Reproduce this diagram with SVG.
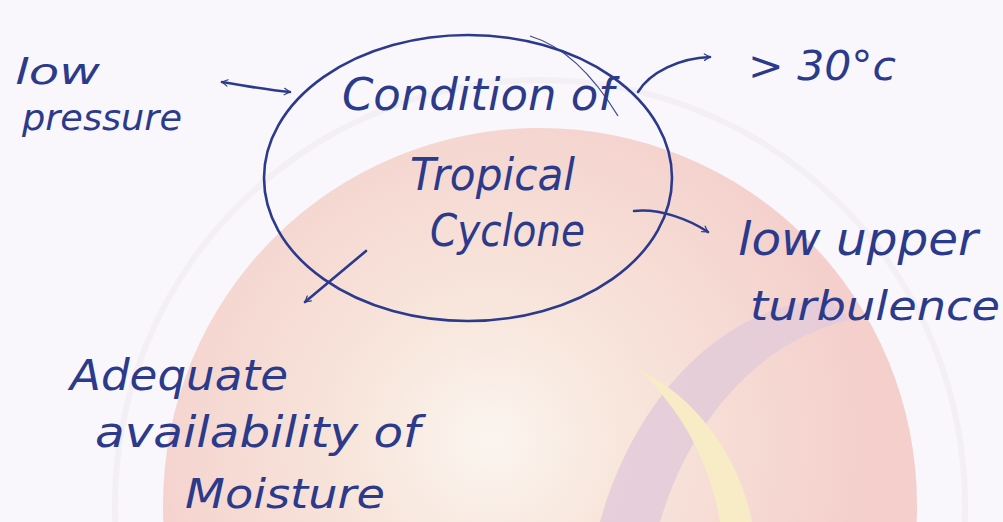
<svg xmlns="http://www.w3.org/2000/svg" width="1003" height="522" viewBox="0 0 1003 522">
<defs>
<style>
.ink{fill:none;stroke:#2b3a8a;stroke-width:2.6;stroke-linecap:round;stroke-linejoin:round}
.t{font-family:"DejaVu Sans","Liberation Sans",sans-serif;fill:#2b3a8a;font-style:italic;font-weight:normal}
</style>
<marker id="ah" viewBox="0 0 20 20" refX="18" refY="10" markerWidth="8" markerHeight="8" markerUnits="userSpaceOnUse" orient="auto" overflow="visible">
<path d="M4,2 L18,10 L4,18" fill="none" stroke="#2b3a8a" stroke-width="3" stroke-linecap="round" stroke-linejoin="round"/>
</marker>
<marker id="ahs" viewBox="0 0 20 20" refX="2" refY="10" markerWidth="8" markerHeight="8" markerUnits="userSpaceOnUse" orient="auto" overflow="visible">
<path d="M16,2 L2,10 L16,18" fill="none" stroke="#2b3a8a" stroke-width="3" stroke-linecap="round" stroke-linejoin="round"/>
</marker>
<radialGradient id="glow" cx="490" cy="440" r="380" gradientUnits="userSpaceOnUse">
<stop offset="0" stop-color="#fbf5ef"/>
<stop offset="0.35" stop-color="#f8e6dc"/>
<stop offset="1" stop-color="#f4cfcc"/>
</radialGradient>
</defs>
<rect width="1003" height="522" fill="#f9f7fc"/>
<g id="watermark">
<circle cx="540" cy="505" r="425" fill="none" stroke="#f3eff5" stroke-width="6"/>
<circle cx="540" cy="505" r="377" fill="url(#glow)"/>
<path d="M830,300 C740,300 640,380 600,522 L660,522 C690,420 760,340 850,320 Z" fill="#e3cbd9" opacity="0.85"/>
<path d="M640,370 C700,400 740,460 752,522 L720,522 C710,460 680,410 640,370 Z" fill="#f8ecc6"/>
</g>
<g id="connectors">
<path class="ink" d="M222,82 C245,86 268,90 290,92" marker-start="url(#ahs)" marker-end="url(#ah)"/>
<path class="ink" d="M638,92 C650,72 680,58 710,57" marker-end="url(#ah)"/>
<path class="ink" d="M634,211 C660,208 690,220 708,232" marker-end="url(#ah)"/>
<path class="ink" d="M366,251 L305,302" marker-end="url(#ah)"/>
<path d="M530,36 C560,45 590,70 618,116" fill="none" stroke="#3d4a90" stroke-width="1.3"/>
</g>
<g id="center">
<ellipse class="ink" cx="468" cy="178" rx="204" ry="143" stroke-width="2.2"/>
<text class="t" x="342" y="110" font-size="44" textLength="272" lengthAdjust="spacingAndGlyphs">Condition of</text>
<text class="t" x="410" y="190" font-size="44" textLength="165" lengthAdjust="spacingAndGlyphs">Tropical</text>
<text class="t" x="430" y="246" font-size="44" textLength="155" lengthAdjust="spacingAndGlyphs">Cyclone</text>
</g>
<g id="low-pressure">
<text class="t" x="15" y="84" font-size="36" textLength="85" lengthAdjust="spacingAndGlyphs">low</text>
<text class="t" x="22" y="130" font-size="36" textLength="160" lengthAdjust="spacingAndGlyphs">pressure</text>
</g>
<g id="temp">
<text class="t" x="748" y="80" font-size="40" textLength="148" lengthAdjust="spacingAndGlyphs">&gt; 30°c</text>
</g>
<g id="turbulence">
<text class="t" x="738" y="255" font-size="46" textLength="240" lengthAdjust="spacingAndGlyphs">low upper</text>
<text class="t" x="750" y="320" font-size="40" textLength="250" lengthAdjust="spacingAndGlyphs">turbulence</text>
</g>
<g id="moisture">
<text class="t" x="70" y="390" font-size="42" textLength="218" lengthAdjust="spacingAndGlyphs">Adequate</text>
<text class="t" x="95" y="447" font-size="42" textLength="325" lengthAdjust="spacingAndGlyphs">availability of</text>
<text class="t" x="185" y="508" font-size="40" textLength="200" lengthAdjust="spacingAndGlyphs">Moisture</text>
</g>
</svg>
